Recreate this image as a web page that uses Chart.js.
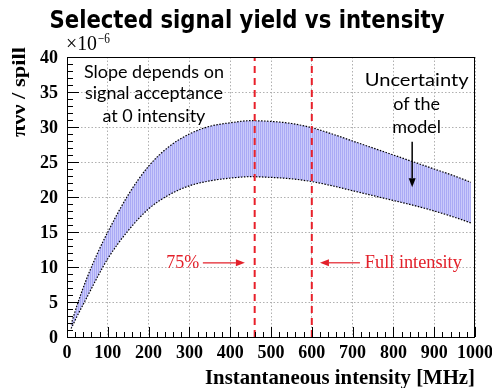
<!DOCTYPE html>
<html>
<head>
<meta charset="utf-8">
<script src="https://cdn.jsdelivr.net/npm/chart.js@4.4.1/dist/chart.umd.min.js"></script>
<style>
  html, body { margin: 0; padding: 0; background: #fff; }
  #c { display: block; }
</style>
</head>
<body>
<canvas id="c" width="492" height="388"></canvas>
<script>
// intensity points (MHz) where the model band is sampled
const intensity = [10, 25, 50, 75, 100, 150, 200, 250, 300, 350, 400, 450, 500, 550, 600, 650, 700, 750, 800, 850, 900, 950, 990];
// upper and lower edge of the band (x 1e-6)
const upperYield = [1.8, 4.6, 8.6, 12.0, 15.0, 20.3, 24.4, 27.2, 29.0, 30.1, 30.6, 30.9, 30.8, 30.5, 29.9, 29.0, 28.0, 27.0, 26.0, 25.0, 24.0, 23.0, 22.1];
const lowerYield = [1.2, 3.0, 5.8, 8.6, 11.2, 15.2, 18.3, 20.3, 21.6, 22.3, 22.7, 22.9, 22.8, 22.6, 22.2, 21.6, 20.9, 20.2, 19.5, 18.8, 18.0, 17.1, 16.3];
// vertical markers (75% and full intensity)
const markers = [460, 600];
const markerLabels = ["75%", "Full intensity"];

const xTicks = [0, 100, 200, 300, 400, 500, 600, 700, 800, 900, 1000];
const yTicks = [0, 5, 10, 15, 20, 25, 30, 35, 40];

const canvas = document.getElementById("c");
const ctx0 = canvas.getContext("2d");

// vertical hatch like the ROOT fill
const hatch = (() => {
  const p = document.createElement("canvas");
  p.width = 2; p.height = 1;
  const g = p.getContext("2d");
  g.fillStyle = "rgb(170,170,245)"; g.fillRect(0, 0, 1, 1);
  g.fillStyle = "rgb(202,202,251)"; g.fillRect(1, 0, 1, 1);
  return ctx0.createPattern(p, "repeat");
})();

const serif = '"Liberation Serif", serif';

function fitText(ctx, text, x, y, font, w, align) {
  ctx.font = font;
  const m = ctx.measureText(text).width;
  const sx = w ? w / m : 1;
  ctx.save();
  ctx.translate(x, y);
  ctx.scale(sx, 1);
  ctx.textAlign = align || "left";
  ctx.fillText(text, 0, 0);
  ctx.restore();
}

function arrow(ctx, x1, y1, x2, y2, color, lw) {
  const ang = Math.atan2(y2 - y1, x2 - x1);
  const hl = 9, hw = 3.5;
  ctx.save();
  ctx.strokeStyle = color; ctx.fillStyle = color; ctx.lineWidth = lw;
  ctx.beginPath();
  ctx.moveTo(x1, y1);
  ctx.lineTo(x2 - hl * Math.cos(ang), y2 - hl * Math.sin(ang));
  ctx.stroke();
  ctx.translate(x2, y2); ctx.rotate(ang);
  ctx.beginPath();
  ctx.moveTo(0, 0); ctx.lineTo(-hl, -hw); ctx.lineTo(-hl, hw); ctx.closePath();
  ctx.fill();
  ctx.restore();
}

const decorations = {
  id: "decorations",
  afterDraw(chart) {
    const ctx = chart.ctx, a = chart.chartArea;
    const xa = chart.scales.x, ya = chart.scales.y;
    const X = v => xa.getPixelForValue(v), Y = v => ya.getPixelForValue(v);

    ctx.save();
    // frame
    ctx.strokeStyle = "#000"; ctx.lineWidth = 1;
    ctx.strokeRect(Math.round(a.left) + 0.5, Math.round(a.top) + 0.5,
      Math.round(a.right - a.left) - 1, Math.round(a.bottom - a.top));

    // inward ticks
    ctx.beginPath();
    for (let v = 0; v <= 40; v++) {
      const py = Math.round(Y(v)) + 0.5;
      ctx.moveTo(a.left, py); ctx.lineTo(a.left + (v % 5 === 0 ? 12 : 6), py);
    }
    for (let v = 0; v <= 1000; v += 20) {
      const px = Math.round(X(v)) + 0.5;
      ctx.moveTo(px, a.bottom); ctx.lineTo(px, a.bottom - (v % 100 === 0 ? 10 : 5));
    }
    ctx.stroke();

    ctx.fillStyle = "#000";
    // tick labels
    ctx.font = "bold 18px " + serif;
    ctx.textBaseline = "middle";
    ctx.textAlign = "right";
    yTicks.forEach(v => ctx.fillText(String(v), a.left - 9, Y(v) + 1));
    ctx.textAlign = "center";
    ctx.textBaseline = "alphabetic";
    xTicks.forEach(v => ctx.fillText(String(v), X(v), a.bottom + 21));

    // title
    fitText(ctx, "Selected signal yield vs intensity", 247, 28, 'bold 24px "DejaVu Sans"', 395, "center");
    // axis titles
    fitText(ctx, "Instantaneous intensity [MHz]", a.right, 384, "bold 21px " + serif, 270, "right");
    ctx.save();
    ctx.translate(25, 47); ctx.rotate(-Math.PI / 2);
    fitText(ctx, "\u03c0\u03bd\u03bd / spill", 0, 0, "bold 19px " + serif, 90, "right");
    ctx.restore();
    // exponent
    fitText(ctx, "\u00d710", a.left - 1, 50, "20px " + serif, 31, "left");
    fitText(ctx, "\u22126", a.left + 31, 43, "14px " + serif, 12, "left");

    // notes
    ctx.textBaseline = "middle";
    const sans = '18px Lato, "Open Sans", sans-serif';
    fitText(ctx, "Slope depends on", X(213), Y(37.9), sans, 140, "center");
    fitText(ctx, "signal acceptance", X(213), Y(34.8), sans, 138, "center");
    fitText(ctx, "at 0 intensity", X(213), Y(31.6), sans, 0, "center");
    fitText(ctx, "Uncertainty", X(857), Y(36.7), sans, 104, "center");
    fitText(ctx, "of the", X(857), Y(33.3), sans, 0, "center");
    fitText(ctx, "model", X(857), Y(30.0), sans, 0, "center");
    arrow(ctx, X(846), Y(27.9), X(846), Y(21.4), "#000", 1.5);

    ctx.fillStyle = "#e3202a";
    fitText(ctx, markerLabels[0], X(284), Y(10.6), "18px " + serif, 0, "center");
    arrow(ctx, X(333), Y(10.6), X(436), Y(10.6), "#e3202a", 1.2);
    fitText(ctx, markerLabels[1], X(730), Y(10.6), "18px " + serif, 97, "left");
    arrow(ctx, X(718), Y(10.6), X(620), Y(10.6), "#e3202a", 1.2);
    ctx.restore();
  }
};

const bandStyle = {
  borderColor: "#000",
  borderWidth: 1.2,
  borderDash: [1.5, 1.5],
  pointRadius: 0,
  cubicInterpolationMode: "monotone"
};

const data = {
  datasets: [
    ...markers.map(m => ({
      data: [{ x: m, y: 0 }, { x: m, y: 40 }],
      borderColor: "#e8202a",
      borderWidth: 2,
      borderDash: [7, 5],
      pointRadius: 0,
      fill: false,
      order: 0
    })),
    {
      ...bandStyle,
      data: intensity.map((x, i) => ({ x, y: upperYield[i] })),
      backgroundColor: hatch,
      fill: "+1",
      order: 1
    },
    {
      ...bandStyle,
      data: intensity.map((x, i) => ({ x, y: lowerYield[i] })),
      fill: false,
      order: 2
    }
  ]
};

const options = {
  responsive: false,
  animation: false,
  layout: { padding: { left: 0, top: 57, right: 17, bottom: 0 } },
  plugins: {
    legend: { display: false },
    tooltip: { enabled: false },
    filler: { drawTime: "beforeDatasetsDraw" }
  },
  scales: {
    x: {
      type: "linear", min: 0, max: 1000,
      afterBuildTicks: s => { s.ticks = xTicks.map(v => ({ value: v })); },
      afterFit: s => { s.height = 51; },
      grid: { color: "#b0b0b0", drawTicks: false },
      border: { display: false, dash: [1.5, 2] },
      ticks: { display: false }
    },
    y: {
      type: "linear", min: 0, max: 40,
      afterBuildTicks: s => { s.ticks = yTicks.map(v => ({ value: v })); },
      afterFit: s => { s.width = 67; },
      grid: { color: "#b0b0b0", drawTicks: false },
      border: { display: false, dash: [1.5, 2] },
      ticks: { display: false }
    }
  }
};

new Chart(canvas, { type: "line", data, options, plugins: [decorations] });
</script>
</body>
</html>
